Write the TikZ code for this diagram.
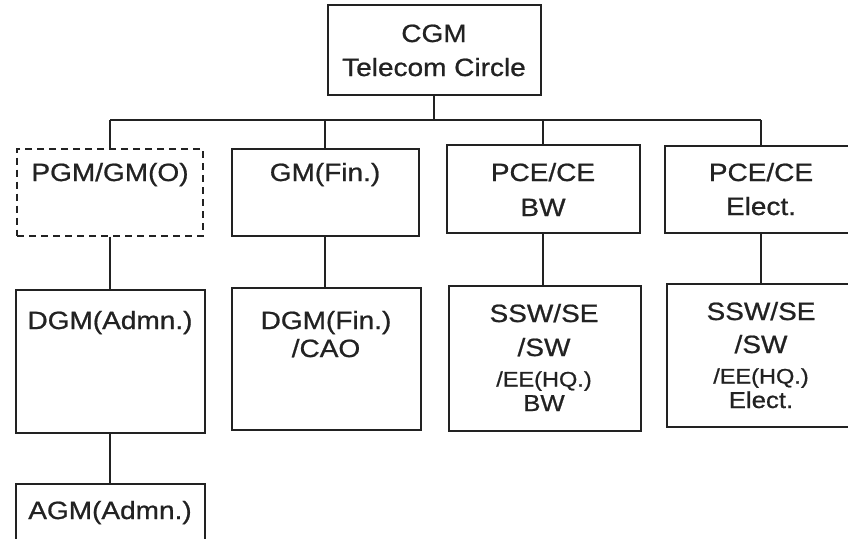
\documentclass[tikz,border=0pt]{standalone}
\usepackage{fontspec}
\setmainfont{Liberation Sans}[FakeStretch=1.12, FakeBold=0.8]
\definecolor{ink}{HTML}{222222}
\tikzset{
  box/.style={draw=ink, line width=2pt, rectangle, inner sep=0pt},
  dbox/.style={box, dash pattern=on 7pt off 5pt},
  big/.style={font=\fontsize{25}{28}\selectfont, inner sep=0pt, anchor=base, text=ink},
  mid/.style={font=\fontsize{23}{26}\selectfont, inner sep=0pt, anchor=base, text=ink},
  small/.style={font=\fontsize{21}{24}\selectfont, inner sep=0pt, anchor=base, text=ink},
  link/.style={draw=ink, line width=2pt}
}
\begin{document}
\begin{tikzpicture}[x=1pt, y=-1pt]
\clip (0,0) rectangle (848,538);
\fill[white] (0,0) rectangle (848,538);
% boxes
\node[box, minimum width=213pt, minimum height=90pt] (cgm) at (434,50) {};
\node[dbox, minimum width=186pt, minimum height=87pt] (pgm) at (110,192) {};
\node[box, minimum width=187pt, minimum height=87pt] (gmf) at (325,192) {};
\node[box, minimum width=193pt, minimum height=88pt] (pceb) at (543,189) {};
\node[box, minimum width=192pt, minimum height=87pt] (pcee) at (761,189) {};
\node[box, minimum width=189pt, minimum height=143pt] (dgma) at (110,361) {};
\node[box, minimum width=189pt, minimum height=142pt] (dgmf) at (326,359) {};
\node[box, minimum width=192pt, minimum height=145pt] (sswb) at (545,358) {};
\node[box, minimum width=192pt, minimum height=143pt] (sswe) at (763,355) {};
\node[box, minimum width=189pt, minimum height=87pt] (agm) at (110,527) {};
% bus
\coordinate (bus) at (0,120);
\draw[link] (cgm.south) -- (cgm.south |- bus);
\draw[link] (pgm.north |- bus) -- (pcee.north |- bus);
\draw[link] (pgm.north |- bus) -- (pgm.north);
\draw[link] (gmf.north |- bus) -- (gmf.north);
\draw[link] (pceb.north |- bus) -- (pceb.north);
\draw[link] (pcee.north |- bus) -- (pcee.north);
% vertical links
\draw[link] (pgm.south) -- (pgm.south |- dgma.north);
\draw[link] (gmf.south) -- (gmf.south |- dgmf.north);
\draw[link] (pceb.south) -- (pceb.south |- sswb.north);
\draw[link] (pcee.south) -- (pcee.south |- sswe.north);
\draw[link] (dgma.south) -- (dgma.south |- agm.north);
% texts
\node[big] (t1) at (434,42) {CGM};
\node[big] (t2) at (434,76) {Telecom Circle};
\node[big] (t3) at (110,181) {PGM/GM(O)};
\node[big] (t4) at (325,181) {GM(Fin.)};
\node[big] (t5) at (543,181) {PCE/CE};
\node[big] (t6) at (543,216) {BW};
\node[big] (t7) at (761,181) {PCE/CE};
\node[big] (t8) at (761,215) {Elect.};
\node[big] (t9) at (110,329) {DGM(Admn.)};
\node[big] (t10) at (326,329) {DGM(Fin.)};
\node[big] (t11) at (326,357) {/CAO};
\node[big] (t12) at (544,322) {SSW/SE};
\node[big] (t13) at (544,356) {/SW};
\node[small] (t14) at (544,386.5) {/EE(HQ.)};
\node[mid] (t15) at (544,411) {BW};
\node[big] (t16) at (761,320) {SSW/SE};
\node[big] (t17) at (761,353) {/SW};
\node[small] (t18) at (761,383.5) {/EE(HQ.)};
\node[mid] (t19) at (761,408) {Elect.};
\node[big] (t20) at (110,519) {AGM(Admn.)};
\end{tikzpicture}
\end{document}
